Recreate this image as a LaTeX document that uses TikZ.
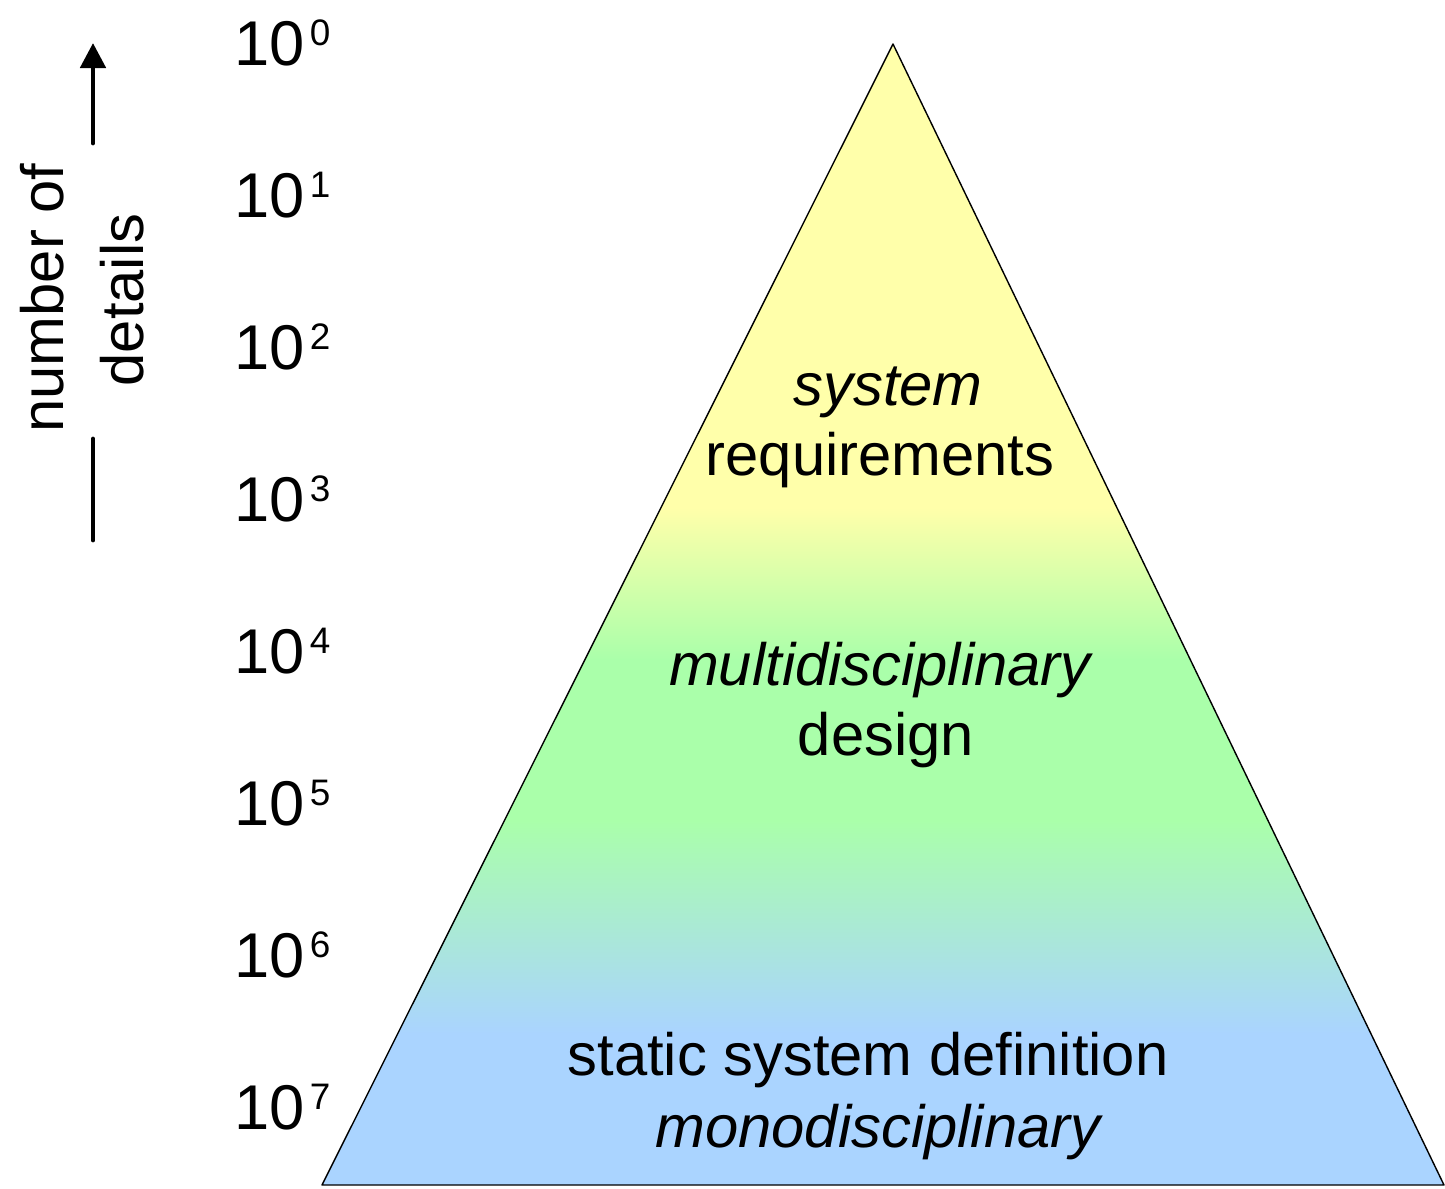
\documentclass[tikz,border=0pt]{standalone}
\usepackage{fontspec}
\setmainfont{Liberation Sans}
\usepackage{tikz}
\usetikzlibrary{arrows.meta}
\definecolor{pyellow}{RGB}{255,255,170}
\definecolor{pgreen}{RGB}{170,255,170}
\definecolor{pblue}{RGB}{170,212,255}
\newcommand{\decade}[1]{10\kern3pt\raisebox{11pt}{\fontsize{21}{22}\selectfont #1}}
\tikzset{
    txt/.style={anchor=base,inner sep=0pt,font=\fontsize{34}{40}\selectfont},
    itxt/.style={txt,font=\fontsize{34}{40}\selectfont\itshape},
    decade/.style={anchor=base west,inner sep=0pt,font=\fontsize{36}{40}\selectfont},
    axisline/.style={line width=2.8pt,line cap=round},
}

\begin{document}
\begin{tikzpicture}[x=0.02cm,y=-0.02cm]
    \useasboundingbox (0,0) rectangle (1445,1188);
    % pyramid
    \coordinate (apex) at (893,44);
    \coordinate (bl) at (322,1185);
    \coordinate (br) at (1444,1185);
    \begin{scope}
        \clip (apex) -- (bl) -- (br) -- cycle;
        \fill[pyellow] (300,40) rectangle (1450,509);
        \shade[top color=pyellow,bottom color=pgreen] (300,508) rectangle (1450,660);
        \fill[pgreen] (300,659) rectangle (1450,821);
        \shade[top color=pgreen,bottom color=pblue] (300,820) rectangle (1450,1034);
        \fill[pblue] (300,1033) rectangle (1450,1190);
    \end{scope}
    \draw[line width=0.8pt,line join=round] (apex) -- (bl) -- (br) -- cycle;

    \node[itxt] (sys) at (888,405) {system};
    \node[txt] (req) at (880,475) {requirements};
    \node[itxt] (multi) at (880,685) {multidisciplinary};
    \node[txt] (design) at (886,755) {design};
    \node[txt] (static) at (868,1075) {static system definition};
    \node[itxt] (mono) at (878,1147) {monodisciplinary};

    % scale
    \foreach \k in {0,...,7}
        \node[decade] (d\k) at (234,{65+152*\k}) {\decade{\k}};

    \node[txt,rotate=90] (nof) at (63,298) {number of};
    \node[txt,rotate=90] (det) at (143,300) {details};
    \coordinate (up1) at (93,143);
    \coordinate (up2) at (93,43);
    \coordinate (lo1) at (93,439);
    \coordinate (lo2) at (93,540);
    \draw[axisline,-{Triangle[length=0.5cm,width=0.5cm]}] (up1) -- (up2);
    \draw[axisline] (lo1) -- (lo2);
\end{tikzpicture}
\end{document}
